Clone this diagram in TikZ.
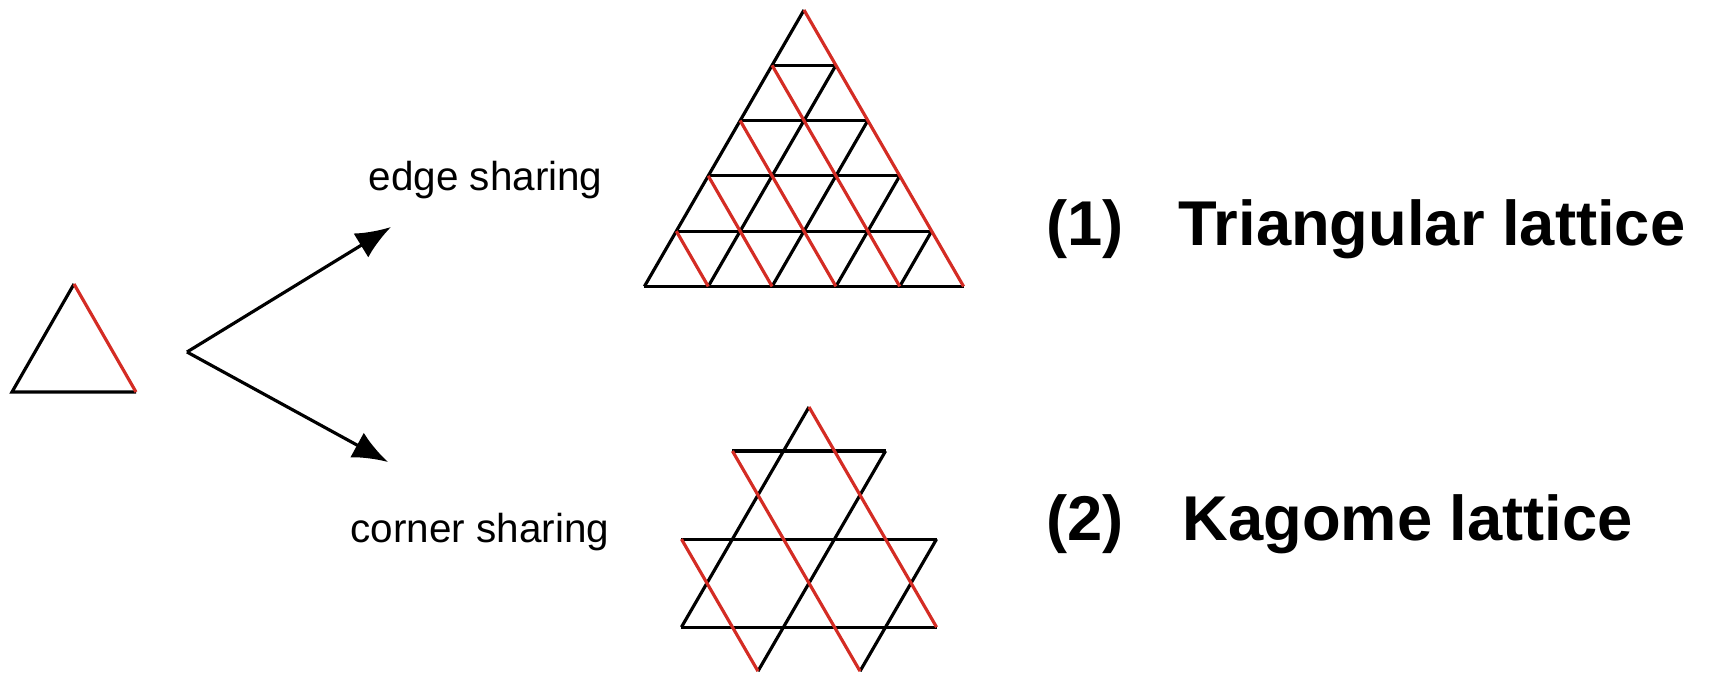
\documentclass[tikz,border=0pt]{standalone}
\usepackage{fontspec}
\setmainfont{Liberation Sans}
\usetikzlibrary{arrows.meta}
\definecolor{bondred}{RGB}{212, 44, 36}
\tikzset{
    bond/.style={line width=0.9pt, black},
    redbond/.style={line width=0.9pt, bondred},
    share/.style={line width=0.9pt, -{Latex[length=10pt, width=8pt]}},
    sharelbl/.style={anchor=base west, inner sep=0pt, font=\fontsize{11.5}{14}\selectfont},
    latlbl/.style={anchor=base west, inner sep=0pt, font=\fontsize{18}{22}\selectfont\bfseries}
}

\begin{document}
\begin{tikzpicture}[x=0.01cm, y=-0.01cm]
        \useasboundingbox (0,0) rectangle (1714,672);

        % single triangle
        \draw[bond] (136,392) -- (12,392) -- (74,284);
        \draw[redbond] (74,284) -- (136,392);

        % arrows
        \coordinate (split) at (187,352);
        \coordinate (edgetip) at (391,227);
        \coordinate (cornertip) at (388,462);
        \draw[share] (split) -- (edgetip);
        \draw[share] (split) -- (cornertip);

        \node[sharelbl] (edgelbl) at (368,190) {edge sharing};
        \node[sharelbl] (cornerlbl) at (350,542) {corner sharing};

        % triangular lattice, 5 rows
        \begin{scope}[shift={(804,10)}, x={(0.638cm,0)}, y={(-0.319cm,-0.5525cm)}]
            \foreach \j in {1,...,5} {
                \draw[bond] (0,\j) -- (\j,\j);
            }
            \foreach \i in {0,...,4} {
                \draw[bond] (\i,5) -- (\i,\i);
            }
            \foreach \k in {0,...,4} {
                \pgfmathtruncatemacro{\e}{5-\k}
                \draw[redbond] (0,\k) -- (\e,5);
            }
        \end{scope}

        % kagome lattice
        \begin{scope}[shift={(809,407)}, x={(0.51cm,0)}, y={(0,-0.44cm)}]
            \draw[bond] (-1.5,1) -- (1.5,1);
            \draw[bond] (-2.5,3) -- (2.5,3);
            \draw[bond] (-2.5,5) -- (2.5,5);
            \draw[bond] (0,0) -- (-2.5,5);
            \draw[bond] (1.5,1) -- (-1,6);
            \draw[bond] (2.5,3) -- (1,6);
            \draw[redbond] (0,0) -- (2.5,5);
            \draw[redbond] (-1.5,1) -- (1,6);
            \draw[redbond] (-2.5,3) -- (-1,6);
        \end{scope}

        % names
        \node[latlbl] (num1) at (1046,245) {(1)};
        \node[latlbl] (name1) at (1178,245) {Triangular lattice};
        \node[latlbl] (num2) at (1046,540) {(2)};
        \node[latlbl] (name2) at (1182,540) {Kagome lattice};

    \end{tikzpicture}
\end{document}
